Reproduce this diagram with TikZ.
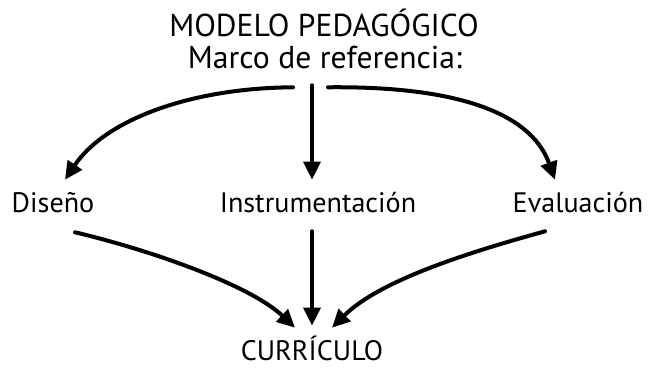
\documentclass[tikz,border=0pt]{standalone}
\usepackage{fontspec}
\setmainfont{PT Sans}
\usetikzlibrary{arrows.meta, calc}

\begin{document}
\begin{tikzpicture}[
        x=0.025cm, y=-0.025cm,
        term/.style={font=\fontsize{20}{24}\selectfont, text height=0.5cm, text depth=0.15cm, inner xsep=0pt, inner ysep=0.325cm, anchor=base},
        head/.style={term, font=\fontsize{22.5}{27}\selectfont},
        link/.style={draw, -{Triangle[length=0.45cm, width=0.42cm]}, line width=0.1cm, line cap=round}
    ]
        \useasboundingbox (0,0) rectangle (649,368);
        \node [head] (title) at (324,36) {MODELO PEDAGÓGICO};
        \node [head] (marco) at (325,68) {Marco de referencia:};
        \node [term] (diseno) at (53,212) {Diseño};
        \node [term] (instr) at (318,212) {Instrumentación};
        \node [term] (eval) at (578,212) {Evaluación};
        \node [term, text height=0.725cm, text depth=0pt, inner ysep=0.1cm] (curr) at (312,360) {CURRÍCULO};

        \path [link] ($(marco.south)+(-32,0)$) .. controls (190,88) and (105,120) .. ($(diseno.north)+(12,1)$);
        \path [link] ($(marco.south)+(-13,-2)$) -- ($(instr.north)+(-6,1)$);
        \path [link] ($(marco.south)+(3,0)$) .. controls (450,86) and (530,110) .. ($(eval.north)+(-23,1)$);

        \path [link] ($(diseno.south)+(22,1)$) .. controls (150,250) and (250,285) .. ($(curr.north)+(-17,1)$);
        \path [link] ($(instr.south)+(-6,0)$) -- ($(curr.north)+(0,-1)$);
        \path [link] ($(eval.south)+(-33,0)$) .. controls (470,252) and (380,280) .. ($(curr.north)+(20,1)$);
    \end{tikzpicture}
\end{document}
